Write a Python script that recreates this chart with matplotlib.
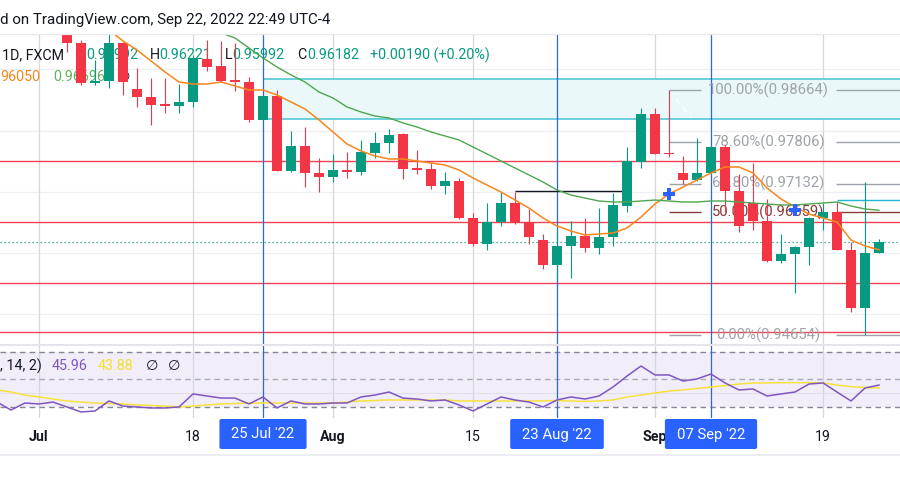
import numpy as np
import pandas as pd
import matplotlib
matplotlib.use("Agg")
import matplotlib.pyplot as plt
from matplotlib.patches import FancyBboxPatch
from matplotlib.lines import Line2D
from matplotlib.transforms import Affine2D, blended_transform_factory

plt.rcParams['font.family'] = ['Roboto', 'DejaVu Sans']

# ---------------- data ----------------
origin = '2022-07-01'
bar_dates = pd.bdate_range('2022-07-05', '2022-09-23')
opens = [0.99900, 0.99433, 0.98779, 0.98811, 0.99433, 0.98680, 0.98549, 0.98435, 0.98402, 0.98468,
         0.99171, 0.99057, 0.98828, 0.98795, 0.98173, 0.98566, 0.97338, 0.97747, 0.97306, 0.97240,
         0.97355, 0.97322, 0.97633, 0.97797, 0.97944, 0.97387, 0.97371, 0.97093, 0.97175, 0.96569,
         0.96143, 0.96503, 0.96814, 0.96503, 0.96209, 0.95800, 0.96111, 0.96274, 0.96078, 0.96258,
         0.96765, 0.97486, 0.98271, 0.97633, 0.97306, 0.97191, 0.97306, 0.97731, 0.97011, 0.96814,
         0.96520, 0.95865, 0.95980, 0.96095, 0.96569, 0.96667, 0.96045, 0.95096, 0.95992]
highs = [0.99990, 0.99482, 0.99155, 0.99600, 0.99450, 0.99024, 0.98860, 0.98860, 0.98762, 0.99237,
         0.99482, 0.99466, 0.99433, 0.98877, 0.98590, 0.98664, 0.97993, 0.98058, 0.97551, 0.97617,
         0.97649, 0.97846, 0.97977, 0.98026, 0.97960, 0.97682, 0.97469, 0.97322, 0.97224, 0.96651,
         0.96814, 0.96995, 0.96995, 0.96716, 0.96307, 0.96405, 0.96520, 0.96569, 0.96733, 0.96978,
         0.97731, 0.98369, 0.98369, 0.98664, 0.97584, 0.97878, 0.97750, 0.97764, 0.97289, 0.97469,
         0.96880, 0.96307, 0.96110, 0.96585, 0.96814, 0.96831, 0.96176, 0.97158, 0.96221]
lows = [0.99286, 0.98746, 0.98746, 0.98697, 0.98582, 0.98386, 0.98091, 0.98288, 0.98288, 0.98386,
        0.98975, 0.98795, 0.98648, 0.98140, 0.98160, 0.97330, 0.97322, 0.97076, 0.96995, 0.97158,
        0.97224, 0.97273, 0.97551, 0.97633, 0.97207, 0.97289, 0.97044, 0.96962, 0.96560, 0.96111,
        0.96045, 0.96438, 0.96471, 0.96143, 0.95734, 0.95554, 0.95587, 0.96013, 0.95980, 0.96111,
        0.96667, 0.97387, 0.97610, 0.97567, 0.97126, 0.97180, 0.97290, 0.96667, 0.96340, 0.96373,
        0.95850, 0.95832, 0.95341, 0.95800, 0.96373, 0.96040, 0.95031, 0.94654, 0.95992]
closes = [0.99433, 0.98779, 0.98811, 0.99433, 0.98795, 0.98549, 0.98418, 0.98402, 0.98468, 0.99188,
          0.99040, 0.98811, 0.98795, 0.98173, 0.98566, 0.97338, 0.97747, 0.97306, 0.97240, 0.97355,
          0.97322, 0.97649, 0.97797, 0.97928, 0.97371, 0.97355, 0.97093, 0.97175, 0.96569, 0.96143,
          0.96503, 0.96814, 0.96487, 0.96258, 0.95800, 0.96111, 0.96274, 0.96078, 0.96258, 0.96782,
          0.97502, 0.98271, 0.97617, 0.97617, 0.97191, 0.97306, 0.97731, 0.97011, 0.96438, 0.96520,
          0.95865, 0.95980, 0.96095, 0.96569, 0.96667, 0.96045, 0.95096, 0.95992, 0.96182]

ma_fast_dates = pd.bdate_range('2022-07-06', '2022-09-23')
ma_fast = [0.99892, 0.99777, 0.99646, 0.99466, 0.99319, 0.99139, 0.98959, 0.98795,
           0.98762, 0.98762, 0.98795, 0.98729, 0.98664, 0.98664, 0.98582, 0.98468, 0.98353, 0.98173,
           0.97977, 0.97780, 0.97666, 0.97584, 0.97535, 0.97535, 0.97502, 0.97469, 0.97437, 0.97355,
           0.97224, 0.97109, 0.96995, 0.96863, 0.96732, 0.96569, 0.96438, 0.96356, 0.96291, 0.96307,
           0.96323, 0.96405, 0.96585, 0.96798, 0.96962, 0.97076, 0.97191, 0.97306, 0.97404, 0.97404,
           0.97306, 0.97060, 0.96880, 0.96749, 0.96634, 0.96569, 0.96503, 0.96209, 0.96111, 0.96050]
ma_slow_dates = pd.bdate_range('2022-07-18', '2022-09-23')
ma_slow = [0.99892, 0.99728, 0.99597, 0.99515, 0.99351, 0.99188, 0.99040, 0.98910, 0.98795, 0.98631,
           0.98533, 0.98386, 0.98304, 0.98238, 0.98206, 0.98124, 0.98058, 0.97977, 0.97911, 0.97846,
           0.97731, 0.97617, 0.97502, 0.97387, 0.97273, 0.97158, 0.97027, 0.96945, 0.96896, 0.96847,
           0.96831, 0.96831, 0.96847, 0.96863, 0.96847, 0.96831, 0.96831, 0.96847, 0.96847, 0.96831,
           0.96814, 0.96798, 0.96782, 0.96782, 0.96798, 0.96814, 0.96831, 0.96765, 0.96716, 0.96696]

rsi_dates = pd.bdate_range('2022-06-28', '2022-09-23')
rsi = [33.6, 27.8, 32.9, 32.2, 33.6, 30.0, 26.4, 27.1, 34.4, 30.7,
       30.0, 29.3, 29.3, 30.0, 39.5, 38.0, 36.5, 36.5, 32.2, 37.3,
       29.3, 34.4, 32.2, 32.2, 32.9, 32.9, 37.3, 38.7, 40.9, 36.5,
       35.8, 34.4, 35.1, 31.5, 27.1, 32.2, 37.3, 35.1, 33.6, 30.0,
       35.1, 37.3, 35.8, 38.0, 44.5, 52.5, 59.8, 53.3, 53.3, 48.9,
       50.4, 54.0, 47.5, 42.4, 43.1, 38.0, 39.5, 40.9, 46.7, 47.5,
       40.9, 34.4, 43.8, 45.96]
rsi_ma = [42.4, 40.9, 38.7, 37.3, 35.8, 34.4, 33.6, 32.9, 32.5, 32.2,
          31.5, 31.1, 30.7, 30.0, 30.7, 31.5, 32.2, 32.5, 32.9, 32.9,
          32.9, 32.9, 32.9, 32.9, 32.9, 33.6, 34.4, 34.7, 35.1, 35.1,
          35.1, 35.1, 35.1, 34.4, 34.4, 34.4, 34.4, 34.4, 34.4, 34.4,
          34.7, 34.4, 34.0, 34.4, 35.1, 37.3, 38.7, 40.2, 41.6, 42.4,
          43.5, 44.5, 45.6, 46.7, 47.5, 47.5, 47.7, 47.7, 47.7, 47.5,
          46.0, 44.8, 44.2, 43.88]

red_levels = [0.97507, 0.96508, 0.95510, 0.94710]
zone_top, zone_bottom, zone_start = 0.98844, 0.98184, '2022-07-25'
fib_high, fib_low, fib_start = 0.98664, 0.94654, '2022-09-02'
fib_end_date = '2022-09-22'
fib_ratios = [1.0, 0.786, 0.618, 0.5, 0.0]
black_level, black_from = 0.97011, '2022-08-18'
cyan_level, cyan_from = 0.96864, '2022-09-20'
last_price = 0.96182
cross_dates = ['2022-09-02', '2022-09-15']
cross_prices = [0.96962, 0.96700]
marker_dates = ['2022-07-25', '2022-08-23', '2022-09-07']
marker_labels = ["25 Jul '22", "23 Aug '22", "07 Sep '22"]
price_grid = [0.95, 0.96, 0.97, 0.98, 0.99]
tick_dates = ['2022-07-01', '2022-07-18', '2022-08-01', '2022-08-15', '2022-09-01', '2022-09-19']
tick_labels = ['Jul', '18', 'Aug', '15', 'Sep', '19']
tick_bold = [True, False, True, False, True, False]


def xi(d):
    d = np.asarray(pd.to_datetime(d).values.astype('datetime64[D]')) if not isinstance(d, str) else np.datetime64(d)
    return np.busday_count(np.datetime64(origin), d)


# ---------------- figure ----------------
W, H = 900, 500
fig = plt.figure(figsize=(9, 5), dpi=100)
fig.patch.set_facecolor('white')
pix = Affine2D().scale(1.0 / W, -1.0 / H).translate(0, 1) + fig.transFigure

XMIN, XMAX = -2.786, 61.5
ax = fig.add_axes([0, (H - 345) / H, 1, 310 / H])
axr = fig.add_axes([0, (H - 418) / H, 1, 73 / H])
for a in (ax, axr):
    a.set_xlim(XMIN, XMAX)
    a.axis('off')
ax.set_ylim(0.944903, 0.995640)
axr.set_ylim(22.0, 75.09)

TEXT = '#131722'
GREEN = '#089981'
RED = '#f23645'
BLUE = '#2962ff'
FIBC = '#9ea2aa'

# grid
for p in price_grid:
    ax.axhline(p, color='#eeeff2', lw=0.9, zorder=0)
for d in tick_dates:
    for a in (ax, axr):
        a.axvline(xi(d), color='#d6d7db', lw=0.9, zorder=0.5)

# zone
zx = xi(zone_start)
ax.fill_between([zx, XMAX], zone_bottom, zone_top, color='#eaf8fa', lw=0, zorder=1)
ax.hlines([zone_top, zone_bottom], zx, XMAX, color='#45c3d4', lw=1.1, zorder=2)

# red levels
for p in red_levels:
    ax.axhline(p, color='#f0424f', lw=1.0, zorder=2)
# last price dotted
ax.axhline(last_price, color=GREEN, lw=0.9, ls=(0, (1, 2.2)), zorder=2)

# blue vertical markers
for d in marker_dates:
    for a in (ax, axr):
        a.axvline(xi(d), color=BLUE, lw=0.9, zorder=2.2)

# fib
fx0 = xi(fib_start)
ax.plot([fx0, xi(fib_end_date)], [fib_high, fib_low], color='white', lw=1, ls=(0, (4, 4)), zorder=1.5)
for r in fib_ratios:
    lvl = fib_low + r * (fib_high - fib_low)
    col = '#8b3a3a' if r == 0.5 else FIBC
    ax.hlines(lvl, fx0, 47.3, color=col, lw=1.0, zorder=2.3)
    ax.hlines(lvl, 56.9, XMAX, color=col, lw=1.0, zorder=2.3)
    ax.text(52.1, lvl, f"{r*100:.2f}%({lvl:.5f})", ha='center', va='center',
            color=col, fontsize=10.7, zorder=2.6)

# black & cyan segments
ax.hlines(black_level, xi(black_from), 41.7, color=TEXT, lw=1.0, zorder=2.4)
ax.hlines(cyan_level, xi(cyan_from), XMAX, color='#22b8cf', lw=1.0, zorder=2.4)

# candles
bx = xi(bar_dates)
o, h, l, c = map(np.asarray, (opens, highs, lows, closes))
cols = np.where(c >= o, GREEN, RED)
ax.vlines(bx, l, h, colors=cols, lw=0.8, zorder=3.9)
body_lo = np.minimum(o, c)
body_h = np.maximum(np.abs(c - o), 0.00018)
ax.bar(bx, body_h, bottom=body_lo, width=0.72, color=cols, lw=0, zorder=4)

# moving averages
ax.plot(xi(ma_fast_dates), ma_fast, color='#f7861c', lw=1.1, zorder=5)
ax.plot(xi(ma_slow_dates), ma_slow, color='#4fa64f', lw=1.0, zorder=5)

# crosses
ax.plot([xi(d) for d in cross_dates], cross_prices, ls='none', marker='P', ms=9,
        mew=0, color=BLUE, zorder=6)

# legend texts (under candles)
def ptxt(a, x, y, s, color=TEXT, size=10.3, z=2.8, **kw):
    a.text(x, y, s, transform=pix, color=color, fontsize=size, va='center',
           ha='left', zorder=z, clip_on=False, **kw)

ptxt(ax, 2, 55, "1D, FXCM")
ptxt(ax, 76, 55, "O")
ptxt(ax, 86, 55, f"{closes[-1] - 0.00190:.5f}", color=GREEN)
ptxt(ax, 150, 55, "H")
ptxt(ax, 159, 55, f"{highs[-1]:.5f}", color=GREEN)
ptxt(ax, 225, 55, "L")
ptxt(ax, 232, 55, f"{lows[-1]:.5f}", color=GREEN)
ptxt(ax, 297, 55, "C")
ptxt(ax, 307, 55, f"{closes[-1]:.5f}", color=GREEN)
ptxt(ax, 370, 55, "+0.00190 (+0.20%)", color=GREEN)
ptxt(ax, 0, 77, f"{ma_fast[-1]:.5f}"[2:], color='#f7861c')
ptxt(ax, 53, 77, f"{ma_slow[-1]:.5f}", color='#5fb35f')
ptxt(ax, 118, 77, "\u2205")

# RSI pane
axr.axhspan(30, 70, color='#f1edf9', lw=0, zorder=0)
axr.axhline(40, color='#e2dfea', lw=0.8, zorder=0.6)
axr.axhline(70, color='#86888f', lw=1.0, ls=(0, (4, 3)), zorder=1)
axr.axhline(50, color='#a9abb2', lw=1.0, ls=(0, (4, 3)), zorder=1)
axr.axhline(30, color='#86888f', lw=1.0, ls=(0, (4, 3)), zorder=1)
axr.plot(xi(rsi_dates), rsi_ma, color='#f7e23c', lw=1.1, zorder=3)
axr.plot(xi(rsi_dates), rsi, color='#7e57c2', lw=1.1, zorder=4)
ptxt(axr, 0, 366, ", 14, 2)")
ptxt(axr, 52, 366, f"{rsi[-1]:.2f}", color='#7e57c2')
ptxt(axr, 98, 366, f"{rsi_ma[-1]:.2f}", color='#f5df2e')
ptxt(axr, 146, 366, "\u2205")
ptxt(axr, 168, 366, "\u2205")

# frame lines
for yy, col, lw in [(34, '#e6e8ee', 1.2), (345, '#e3e5ea', 2.0), (455, '#e6e8ee', 1.5)]:
    fig.add_artist(Line2D([0, W], [yy, yy], transform=pix, color=col, lw=lw * 0.72, zorder=10))

# header
fig.text(0, 20, "d on TradingView.com, Sep 22, 2022 22:49 UTC-4", transform=pix,
         color=TEXT, fontsize=10.9, va='center', ha='left')

# x-axis labels
xt = blended_transform_factory(axr.transData, pix)
for d, s, b in zip(tick_dates, tick_labels, tick_bold):
    fig.text(xi(d), 437, s, transform=xt, ha='center', va='center', color=TEXT,
             fontsize=10.2, fontweight='bold' if b else 'normal', zorder=5)

fig.canvas.draw()
renderer = fig.canvas.get_renderer()
for d, s in zip(marker_dates, marker_labels):
    cx = axr.transData.transform((xi(d), 0))[0]
    t = fig.text(cx, 434.5, s, transform=pix, ha='center', va='center', color='white',
                 fontsize=10.7, zorder=12)
    bb = t.get_window_extent(renderer)
    wbox = bb.width + 24
    fig.add_artist(FancyBboxPatch((cx - wbox / 2, 419), wbox, 30,
                                  boxstyle='round,pad=0,rounding_size=2', transform=pix,
                                  fc=BLUE, ec='none', zorder=11))

fig.savefig('out.png', dpi=100, facecolor='white')
